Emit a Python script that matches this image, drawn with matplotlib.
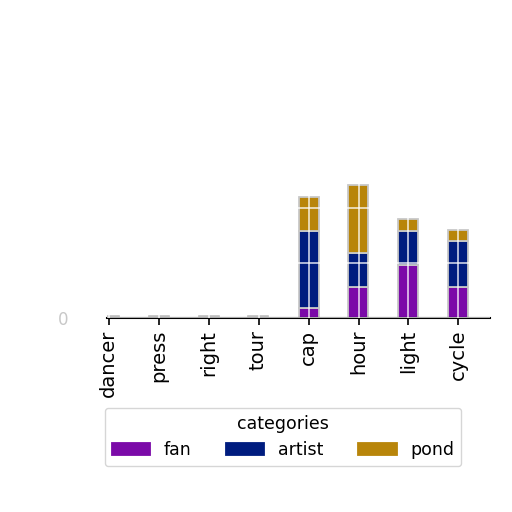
import matplotlib
matplotlib.use("Agg")
import matplotlib.pyplot as plt
import numpy as np

categories = ["dancer", "press", "right", "tour", "cap", "hour", "light", "cycle"]
series_names = ["fan", "artist", "pond"]
fan = [2, 2, 2, 2, 9, 28, 48, 28]
artist = [0, 0, 0, 0, 70, 31, 31, 42]
pond = [0, 0, 0, 0, 31, 62, 11, 10]
colors = ["#7b0aa8", "#001c7f", "#b8850a"]
ytick_values = [0, 50, 100, 150]
ytick_labels = ["0", "", "", ""]

fig = plt.figure(figsize=(5.12, 5.12), dpi=100)
ax = fig.add_axes([107/512, 1-318/512, 383/512, 218/512])

x = np.arange(len(categories))
bottom = np.zeros(len(categories))
for name, vals, c in zip(series_names, [fan, artist, pond], colors):
    vals = np.array(vals, dtype=float)
    ax.bar(x, vals, width=0.4, bottom=bottom, color=c, edgecolor="#c8c8c8",
           linewidth=1.3, label=name, zorder=2)
    bottom += vals

ax.set_xlim(-0.03, 7.63)
ax.set_ylim(0, 198)
ax.set_xticks(x)
ax.set_xticklabels(categories, rotation=90, fontsize=14)
ax.set_yticks(ytick_values)
ax.set_yticklabels(ytick_labels, fontsize=12, color="#c8c8c8")
ax.tick_params(axis="y", length=0, pad=28)
ax.tick_params(axis="x", length=5, width=1.2, color="black")
ax.grid(True, color="white", linewidth=1.2, alpha=0.8, zorder=3)
ax.set_axisbelow(False)
for s in ["top", "left", "right"]:
    ax.spines[s].set_visible(False)
ax.spines["bottom"].set_linewidth(1.5)

leg = fig.legend(title="categories", ncol=3, loc="upper center",
                 bbox_to_anchor=(283/512, 1-399/512), fontsize=12.5,
                 title_fontsize=12.5, fancybox=True, edgecolor="#cccccc",
                 handlelength=2.2, columnspacing=2.0)
for p in leg.get_patches():
    p.set_edgecolor(p.get_facecolor())

fig.savefig("out.png", dpi=100)
